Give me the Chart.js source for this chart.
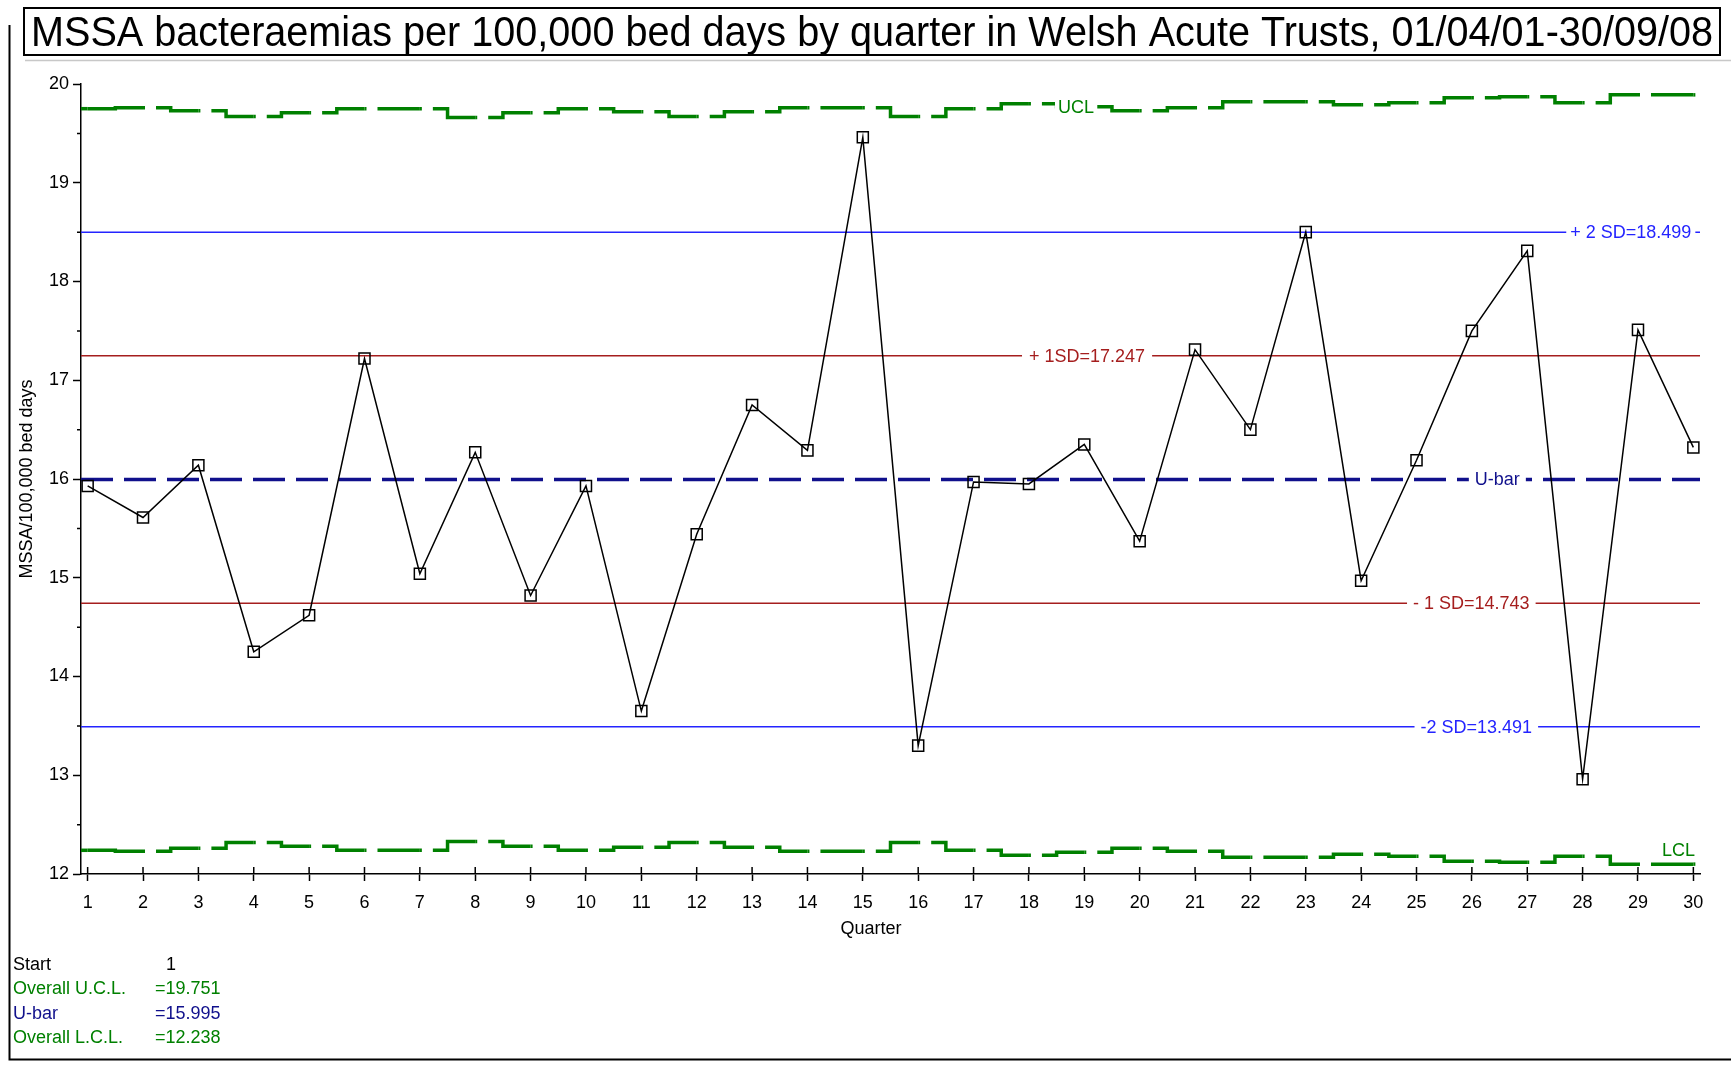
<!DOCTYPE html>
<html><head><meta charset="utf-8">
<script src="https://cdn.jsdelivr.net/npm/chart.js@4.4.1/dist/chart.umd.min.js"></script>
<style>html,body{margin:0;padding:0;background:#fff;}#wrap{position:relative;width:1731px;height:1065px;}</style>
</head><body><div id="wrap"><canvas id="c"></canvas></div>
<script>
const chartTitle = 'MSSA bacteraemias per 100,000 bed days by quarter in Welsh Acute Trusts, 01/04/01-30/09/08';
const xAxisTitle = 'Quarter';
const yAxisTitle = 'MSSA/100,000 bed days';
const quarters = [1,2,3,4,5,6,7,8,9,10,11,12,13,14,15,16,17,18,19,20,21,22,23,24,25,26,27,28,29,30];
const rates = [15.93,15.61,16.14,14.25,14.62,17.22,15.04,16.27,14.82,15.93,13.65,15.44,16.75,16.29,19.46,13.30,15.97,15.95,16.35,15.37,17.31,16.50,18.50,14.97,16.19,17.50,18.31,12.96,17.51,16.32];
const ucl = [19.75,19.76,19.73,19.67,19.71,19.75,19.75,19.66,19.71,19.75,19.72,19.67,19.72,19.76,19.76,19.67,19.75,19.80,19.77,19.73,19.76,19.82,19.82,19.79,19.81,19.86,19.87,19.81,19.89,19.89];
const lcl = [12.24,12.23,12.26,12.32,12.28,12.24,12.24,12.33,12.28,12.24,12.27,12.32,12.27,12.23,12.23,12.32,12.24,12.19,12.22,12.26,12.23,12.17,12.17,12.20,12.18,12.13,12.12,12.18,12.10,12.10];
const uBar = 15.995;
const plus1SD = 17.247, plus2SD = 18.499, minus1SD = 14.743, minus2SD = 13.491;
const overallUCL = 19.751, overallLCL = 12.238, startQuarter = 1;
const yTickValues = [12,12.5,13,13.5,14,14.5,15,15.5,16,16.5,17,17.5,18,18.5,19,19.5,20];

const FONT = '"Liberation Sans", Arial, sans-serif';
const GREEN = '#008000', NAVY = '#10108c', BLUE = '#2424ff', RED = '#a51e1e';
const xMin = 0.88, xMax = 30.12;
const flat = v => [{x:xMin,y:v},{x:xMax,y:v}];
const stepData = arr => [{x:xMin,y:arr[0]}].concat(arr.map((v,i)=>({x:quarters[i],y:v}))).concat([{x:xMax,y:arr[arr.length-1]}]);
// each point-to-point piece of a limit line restarts its dash: short dash, gap, then solid to the next point
const limitSegment = {
  borderDash: c => c.p0DataIndex < 2 ? [] : [70, 11],
  borderDashOffset: c => (c.p0DataIndex % 2 ? 68 : 68.001)
};

function lineLabel(ctx, text, cx, cy, color, pad) {
  ctx.font = '18px ' + FONT;
  const w = ctx.measureText(text).width;
  ctx.fillStyle = '#fff';
  ctx.fillRect(cx - w/2 - pad, cy - 9, w + 2*pad, 18);
  ctx.fillStyle = color;
  ctx.textAlign = 'center';
  ctx.textBaseline = 'middle';
  ctx.fillText(text, cx, cy + 1);
}

const extras = {
  id: 'extras',
  beforeDatasetDraw(chart, args) {
    if (args.index !== 0) return;
    const ctx = chart.ctx, xs = chart.scales.x, ys = chart.scales.y;
    ctx.save();
    lineLabel(ctx, 'UCL', xs.getPixelForValue(18.85), ys.getPixelForValue(ucl[18]), GREEN, 3);
    lineLabel(ctx, '+ 2 SD=18.499', xs.getPixelForValue(28.87), ys.getPixelForValue(plus2SD), BLUE, 4);
    lineLabel(ctx, '+ 1SD=17.247', xs.getPixelForValue(19.05), ys.getPixelForValue(plus1SD), RED, 7);
    lineLabel(ctx, 'U-bar', xs.getPixelForValue(26.46), ys.getPixelForValue(uBar), NAVY, 6);
    lineLabel(ctx, '- 1 SD=14.743', xs.getPixelForValue(25.99), ys.getPixelForValue(minus1SD), RED, 6);
    lineLabel(ctx, '-2 SD=13.491', xs.getPixelForValue(26.08), ys.getPixelForValue(minus2SD), BLUE, 6);
    ctx.font = '18px ' + FONT;
    ctx.fillStyle = GREEN; ctx.textAlign = 'center'; ctx.textBaseline = 'middle';
    ctx.fillText('LCL', xs.getPixelForValue(29.73), ys.getPixelForValue(lcl[29]) - 13);
    ctx.restore();
  },
  afterDraw(chart) {
    const ctx = chart.ctx, xs = chart.scales.x, ys = chart.scales.y, a = chart.chartArea;
    ctx.save();
    ctx.strokeStyle = '#000'; ctx.lineWidth = 1.5;
    ctx.beginPath();
    quarters.forEach(q => { const px = xs.getPixelForValue(q); ctx.moveTo(px, a.bottom - 7); ctx.lineTo(px, a.bottom); });
    yTickValues.forEach(v => { if (!Number.isInteger(v)) { const py = ys.getPixelForValue(v); ctx.moveTo(a.left - 4, py); ctx.lineTo(a.left, py); } });
    ctx.stroke();
    ctx.fillStyle = '#000';
    ctx.font = '18px ' + FONT;
    ctx.textAlign = 'center'; ctx.textBaseline = 'alphabetic';
    ctx.fillText(xAxisTitle, 871, 934);
    ctx.textAlign = 'left';
    const rows = [['Start', String(startQuarter), '#000', 166], ['Overall U.C.L.', '=' + overallUCL.toFixed(3), GREEN, 155], ['U-bar', '=' + uBar.toFixed(3), NAVY, 155], ['Overall L.C.L.', '=' + overallLCL.toFixed(3), GREEN, 155]];
    rows.forEach((r, i) => {
      const by = 970 + i * 24.4;
      ctx.fillStyle = r[2];
      ctx.fillText(r[0], 13, by);
      ctx.fillText(r[1], r[3], by);
    });
    ctx.strokeStyle = '#000'; ctx.lineWidth = 2;
    ctx.beginPath(); ctx.moveTo(9.5, 25); ctx.lineTo(9.5, 1059.5); ctx.lineTo(1731, 1059.5); ctx.stroke();
    ctx.strokeStyle = '#c8c8c8'; ctx.lineWidth = 1.5;
    ctx.beginPath(); ctx.moveTo(25, 60.5); ctx.lineTo(1731, 60.5); ctx.stroke();
    ctx.fillStyle = '#fff'; ctx.fillRect(24, 8, 1696, 47);
    ctx.strokeStyle = '#000'; ctx.lineWidth = 2; ctx.strokeRect(24, 8, 1696, 47);
    ctx.font = '43px ' + FONT;
    const tw = ctx.measureText(chartTitle).width;
    const sx = 1682 / tw;
    ctx.translate(872, 46);
    ctx.scale(sx, 1);
    ctx.fillStyle = '#000'; ctx.textAlign = 'center'; ctx.textBaseline = 'alphabetic';
    ctx.fillText(chartTitle, 0, 0);
    ctx.restore();
  }
};

new Chart(document.getElementById('c'), {
  type: 'line',
  data: {
    datasets: [
      {label:'Rate', data: quarters.map((q,i)=>({x:q,y:rates[i]})), borderColor:'#000', borderWidth:1.5, tension:0,
       pointStyle:'rect', pointRadius:7.8, pointBorderWidth:1.5, pointBorderColor:'#000', pointBackgroundColor:'rgba(0,0,0,0)', order:0},
      {label:'UCL', data: stepData(ucl), stepped:'middle', borderColor:GREEN, borderWidth:3.5, pointRadius:0, order:1, segment: limitSegment},
      {label:'LCL', data: stepData(lcl), stepped:'middle', borderColor:GREEN, borderWidth:3.5, pointRadius:0, order:1, segment: limitSegment},
      {label:'U-bar', data: flat(uBar), borderColor:NAVY, borderWidth:3.5, borderDash:[32,11], pointRadius:0, order:1},
      {label:'+2 SD', data: flat(plus2SD), borderColor:BLUE, borderWidth:1.5, pointRadius:0, order:1},
      {label:'+1 SD', data: flat(plus1SD), borderColor:RED, borderWidth:1.5, pointRadius:0, order:1},
      {label:'-1 SD', data: flat(minus1SD), borderColor:RED, borderWidth:1.5, pointRadius:0, order:1},
      {label:'-2 SD', data: flat(minus2SD), borderColor:BLUE, borderWidth:1.5, pointRadius:0, order:1}
    ]
  },
  options: {
    responsive:true, maintainAspectRatio:false, animation:false,
    layout:{padding:{left:0, top:84, right:31, bottom:125}},
    plugins:{legend:{display:false}, tooltip:{enabled:false}, title:{display:false}},
    scales:{
      x:{type:'linear', min:xMin, max:xMax,
         afterBuildTicks: s => { s.ticks = quarters.map(v=>({value:v})); },
         afterFit: s => { s.height = 66; },
         grid:{drawOnChartArea:false, drawTicks:true, tickLength:7, tickColor:'#000', tickWidth:1.5},
         border:{color:'#000', width:1.5},
         ticks:{color:'#000', font:{family:FONT, size:18}, padding:11, maxRotation:0, autoSkip:false, callback: v => String(v)}},
      y:{type:'linear', min:12, max:20,
         afterBuildTicks: s => { s.ticks = yTickValues.map(v=>({value:v})); },
         afterFit: s => { s.width = 81; },
         grid:{drawOnChartArea:false, drawTicks:true, tickLength:8, tickWidth:1.5,
               tickColor: c => (c.tick && Number.isInteger(c.tick.value)) ? '#000' : 'rgba(0,0,0,0)'},
         border:{color:'#000', width:1.5},
         ticks:{color:'#000', font:{family:FONT, size:18}, padding:4, autoSkip:false, callback: v => Number.isInteger(v) ? String(v) : ''},
         title:{display:true, text:yAxisTitle, color:'#000', font:{family:FONT, size:18}, padding:{top:16, bottom:0}}}
    }
  },
  plugins:[extras]
});
</script></body></html>
